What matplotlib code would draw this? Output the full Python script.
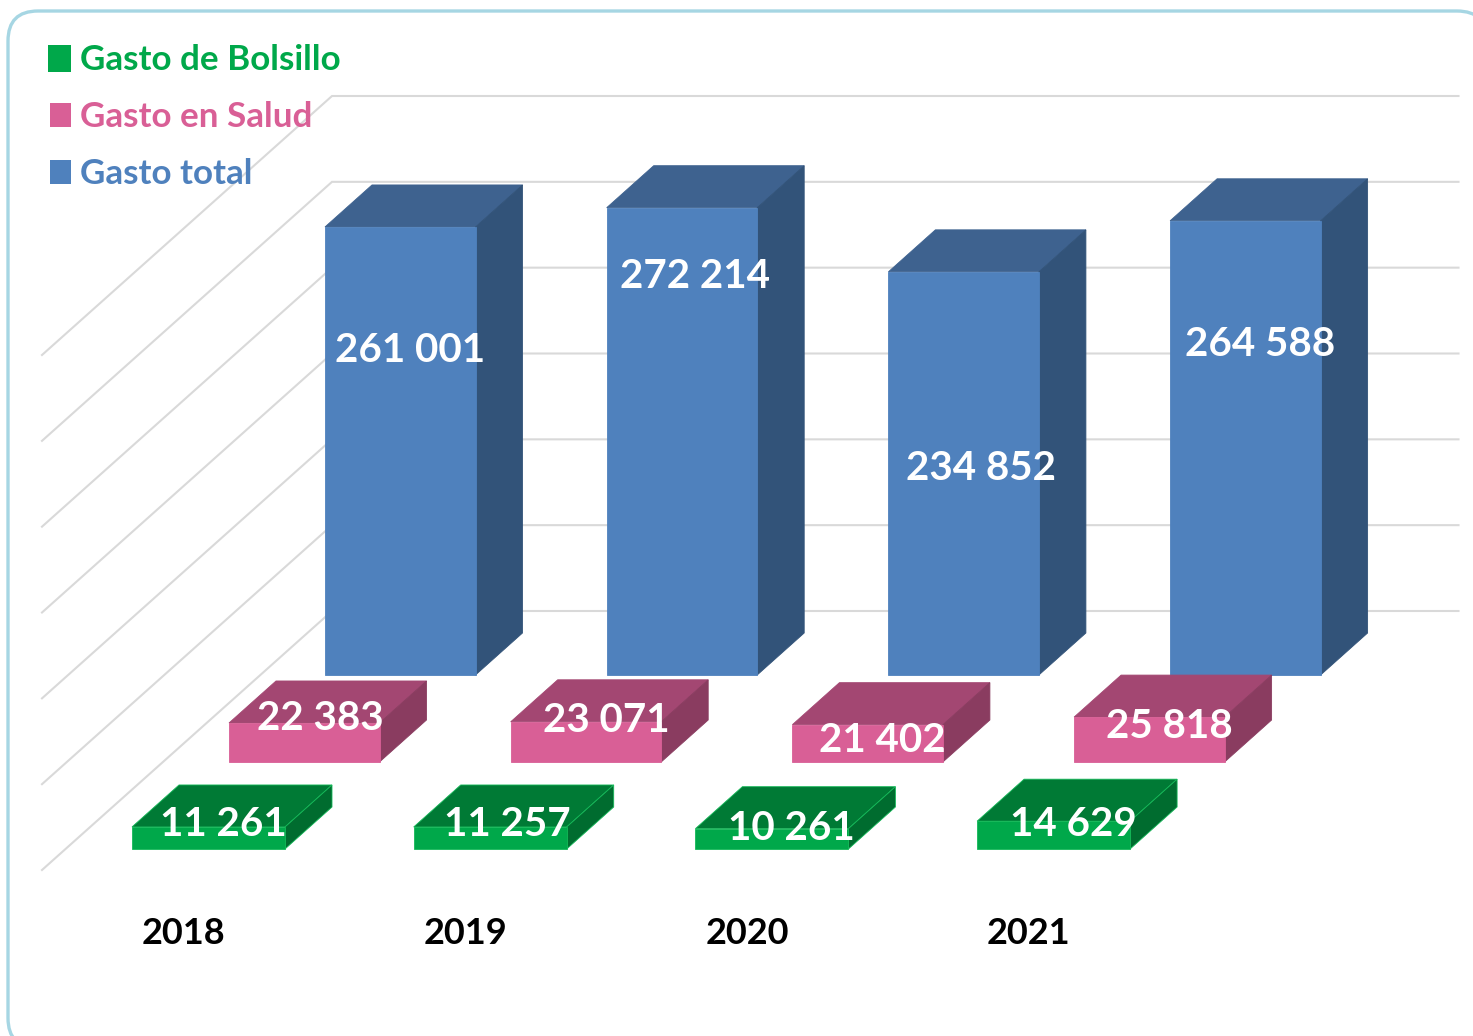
import matplotlib
matplotlib.use("Agg")
import matplotlib.pyplot as plt
from matplotlib.patches import Polygon, FancyBboxPatch, Rectangle

years = ["2018", "2019", "2020", "2021"]
gasto_total = [261001, 272214, 234852, 264588]
gasto_salud = [22383, 23071, 21402, 25818]
gasto_bolsillo = [11261, 11257, 10261, 14629]
grid_values = [0, 50000, 100000, 150000, 200000, 250000, 300000]

W, H = 1473, 1036
PX_PER_UNIT = 515.0 / 300000
STEP = 281.7
DX, DY = 47, 42
FONT = ["Lato", "DejaVu Sans"]

fig = plt.figure(figsize=(W / 100, H / 100), dpi=100)
ax = fig.add_axes([0, 0, 1, 1])
ax.set_xlim(0, W)
ax.set_ylim(H, 0)
ax.axis("off")

ax.add_patch(FancyBboxPatch((8 + 30, 11 + 30), 1450 - 60 + 29, 1037 - 60, boxstyle="round,pad=30,rounding_size=30",
                            fc="white", ec="#a6d6e3", lw=2.4, zorder=1, clip_on=True))

# grid: back wall and left wall
for v in grid_values:
    y = 611 - v * PX_PER_UNIT
    ax.plot([42, 332, 1458.5], [y + 259, y, y], color="#d9d9d9", lw=1.5, zorder=2, solid_joinstyle="miter")


def bar3d(x0, width, base, value, pad, front, top, side, edge, z):
    h = value * PX_PER_UNIT + pad
    x1 = x0 + width
    yt = base - h
    ax.add_patch(Polygon([(x0, yt), (x0 + DX, yt - DY), (x1 + DX, yt - DY), (x1, yt)],
                         fc=top, ec=edge or top, lw=0.6, zorder=z))
    ax.add_patch(Polygon([(x1, yt), (x1 + DX, yt - DY), (x1 + DX, base - DY), (x1, base)],
                         fc=side, ec=edge or side, lw=0.6, zorder=z))
    ax.add_patch(Rectangle((x0, yt), width, h, fc=front, ec=edge or front, lw=0.6, zorder=z + 0.1))


series = [
    (gasto_total, 325, 150.5, 675, 0.0, "#4f81bd", "#3e628f", "#325379", None, 3),
    (gasto_salud, 229, 150.5, 762, 0.6, "#d95f96", "#a34772", "#8a3c60", None, 4),
    (gasto_bolsillo, 132, 153, 849, 2.7, "#00a84a", "#007a35", "#006c2f", "#14b858", 5),
]
for vals, x_start, width, base, pad, fc, tc, sc, ec, z in series:
    for i, v in enumerate(vals):
        bar3d(x_start + i * STEP, width, base, v, pad, fc, tc, sc, ec, z)


def fmt(v):
    return f"{v:,}".replace(",", " ")


total_label_xy = [(410, 351), (695, 277), (981, 468), (1260, 345)]
salud_label_xy = [(320, 719), (606, 720), (882, 741), (1169, 727)]
bolsillo_label_xy = [(223, 825), (507, 825), (791, 829), (1073, 825)]
for vals, xy in [(gasto_total, total_label_xy), (gasto_salud, salud_label_xy), (gasto_bolsillo, bolsillo_label_xy)]:
    for v, (x, y) in zip(vals, xy):
        ax.text(x, y, fmt(v), color="white", family=FONT, weight="bold", fontsize=29,
                ha="center", va="center", zorder=8)

for i, yr in enumerate(years):
    ax.text(183.5 + i * STEP, 934, yr, color="black", family=FONT, weight="bold", fontsize=26,
            ha="center", va="center", zorder=8)

legend = [("Gasto de Bolsillo", "#00a84a", (48, 45, 23, 27), 60),
          ("Gasto en Salud", "#d95f96", (50, 103, 21, 24), 117),
          ("Gasto total", "#4f81bd", (50, 160, 21, 24), 174)]
for name, col, (x, y, w, h), ty in legend:
    ax.add_patch(Rectangle((x, y), w, h, fc=col, ec="none", zorder=8))
    ax.text(80, ty, name, color=col, family=FONT, weight="bold", fontsize=25.2,
            ha="left", va="center", zorder=8)

fig.savefig("out.png", dpi=100)
